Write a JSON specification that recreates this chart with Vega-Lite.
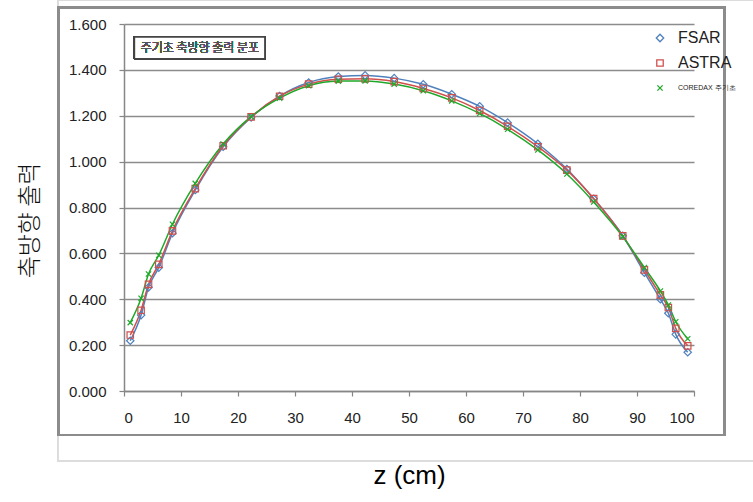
{
  "$schema": "https://vega.github.io/schema/vega-lite/v6.json",
  "width": 570,
  "height": 367,
  "autosize": "none",
  "padding": {"left": 124, "top": 24, "right": 59, "bottom": 111},
  "background": "white",
  "config": {
    "view": {"stroke": null},
    "font": "Liberation Sans"
  },
  "data": {
    "values": [
      {"z": 1.1, "series": "FSAR", "value": 0.219},
      {"z": 3.0, "series": "FSAR", "value": 0.331},
      {"z": 4.3, "series": "FSAR", "value": 0.452},
      {"z": 6.1, "series": "FSAR", "value": 0.538},
      {"z": 8.5, "series": "FSAR", "value": 0.688},
      {"z": 12.5, "series": "FSAR", "value": 0.876},
      {"z": 17.4, "series": "FSAR", "value": 1.065},
      {"z": 22.3, "series": "FSAR", "value": 1.193},
      {"z": 27.3, "series": "FSAR", "value": 1.286},
      {"z": 32.4, "series": "FSAR", "value": 1.345},
      {"z": 37.6, "series": "FSAR", "value": 1.371},
      {"z": 42.3, "series": "FSAR", "value": 1.376},
      {"z": 47.4, "series": "FSAR", "value": 1.364},
      {"z": 52.5, "series": "FSAR", "value": 1.337},
      {"z": 57.5, "series": "FSAR", "value": 1.294},
      {"z": 62.4, "series": "FSAR", "value": 1.241},
      {"z": 67.3, "series": "FSAR", "value": 1.170},
      {"z": 72.6, "series": "FSAR", "value": 1.078},
      {"z": 77.7, "series": "FSAR", "value": 0.968},
      {"z": 82.4, "series": "FSAR", "value": 0.838},
      {"z": 87.5, "series": "FSAR", "value": 0.677},
      {"z": 91.3, "series": "FSAR", "value": 0.516},
      {"z": 94.1, "series": "FSAR", "value": 0.400},
      {"z": 95.5, "series": "FSAR", "value": 0.339},
      {"z": 96.8, "series": "FSAR", "value": 0.247},
      {"z": 98.9, "series": "FSAR", "value": 0.169},
      {"z": 1.1, "series": "ASTRA", "value": 0.244},
      {"z": 3.0, "series": "ASTRA", "value": 0.352},
      {"z": 4.3, "series": "ASTRA", "value": 0.465},
      {"z": 6.1, "series": "ASTRA", "value": 0.552},
      {"z": 8.5, "series": "ASTRA", "value": 0.698},
      {"z": 12.5, "series": "ASTRA", "value": 0.882},
      {"z": 17.4, "series": "ASTRA", "value": 1.069},
      {"z": 22.3, "series": "ASTRA", "value": 1.195},
      {"z": 27.3, "series": "ASTRA", "value": 1.285},
      {"z": 32.4, "series": "ASTRA", "value": 1.338},
      {"z": 37.6, "series": "ASTRA", "value": 1.359},
      {"z": 42.3, "series": "ASTRA", "value": 1.361},
      {"z": 47.4, "series": "ASTRA", "value": 1.349},
      {"z": 52.5, "series": "ASTRA", "value": 1.319},
      {"z": 57.5, "series": "ASTRA", "value": 1.278},
      {"z": 62.4, "series": "ASTRA", "value": 1.223},
      {"z": 67.3, "series": "ASTRA", "value": 1.154},
      {"z": 72.6, "series": "ASTRA", "value": 1.065},
      {"z": 77.7, "series": "ASTRA", "value": 0.963},
      {"z": 82.4, "series": "ASTRA", "value": 0.839},
      {"z": 87.5, "series": "ASTRA", "value": 0.676},
      {"z": 91.3, "series": "ASTRA", "value": 0.528},
      {"z": 94.1, "series": "ASTRA", "value": 0.419},
      {"z": 95.5, "series": "ASTRA", "value": 0.364},
      {"z": 96.8, "series": "ASTRA", "value": 0.273},
      {"z": 98.9, "series": "ASTRA", "value": 0.197},
      {"z": 1.1, "series": "COREDAX 주기초", "value": 0.298},
      {"z": 3.0, "series": "COREDAX 주기초", "value": 0.404},
      {"z": 4.3, "series": "COREDAX 주기초", "value": 0.510},
      {"z": 6.1, "series": "COREDAX 주기초", "value": 0.592},
      {"z": 8.5, "series": "COREDAX 주기초", "value": 0.727},
      {"z": 12.5, "series": "COREDAX 주기초", "value": 0.905},
      {"z": 17.4, "series": "COREDAX 주기초", "value": 1.077},
      {"z": 22.3, "series": "COREDAX 주기초", "value": 1.196},
      {"z": 27.3, "series": "COREDAX 주기초", "value": 1.277},
      {"z": 32.4, "series": "COREDAX 주기초", "value": 1.331},
      {"z": 37.6, "series": "COREDAX 주기초", "value": 1.351},
      {"z": 42.3, "series": "COREDAX 주기초", "value": 1.352},
      {"z": 47.4, "series": "COREDAX 주기초", "value": 1.338},
      {"z": 52.5, "series": "COREDAX 주기초", "value": 1.309},
      {"z": 57.5, "series": "COREDAX 주기초", "value": 1.265},
      {"z": 62.4, "series": "COREDAX 주기초", "value": 1.210},
      {"z": 67.3, "series": "COREDAX 주기초", "value": 1.141},
      {"z": 72.6, "series": "COREDAX 주기초", "value": 1.051},
      {"z": 77.7, "series": "COREDAX 주기초", "value": 0.946},
      {"z": 82.4, "series": "COREDAX 주기초", "value": 0.824},
      {"z": 87.5, "series": "COREDAX 주기초", "value": 0.673},
      {"z": 91.3, "series": "COREDAX 주기초", "value": 0.538},
      {"z": 94.1, "series": "COREDAX 주기초", "value": 0.436},
      {"z": 95.5, "series": "COREDAX 주기초", "value": 0.375},
      {"z": 96.8, "series": "COREDAX 주기초", "value": 0.302},
      {"z": 98.9, "series": "COREDAX 주기초", "value": 0.228}
    ]
  },
  "encoding": {
    "x": {
      "field": "z", "type": "quantitative",
      "scale": {"domain": [0, 100], "nice": false, "zero": false},
      "axis": {
        "title": "z (cm)", "values": [0,10,20,30,40,50,60,70,80,90,100],
        "grid": false, "domainColor": "#868686", "domainWidth": 1.5,
        "tickColor": "#868686", "tickSize": 5, "tickWidth": 1.2,
        "labelFontSize": 15, "labelColor": "#222", "labelPadding": 14,
        "titleFontSize": 26, "titleFontWeight": "normal", "titleColor": "#000",
        "titleFont": "Liberation Sans", "titleY": 84, "titleBaseline": "middle", "titleX": 285
      }
    },
    "y": {
      "field": "value", "type": "quantitative",
      "scale": {"domain": [0, 1.6], "nice": false},
      "axis": {
        "title": "축방향 출력", "values": [0,0.2,0.4,0.6,0.8,1.0,1.2,1.4,1.6], "format": ".3f",
        "grid": true, "gridColor": "#8c8c8c", "gridWidth": 1.5,
        "domainColor": "#868686", "domainWidth": 1.5,
        "tickColor": "#868686", "tickSize": 5, "tickWidth": 1.2,
        "labelFontSize": 15, "labelColor": "#222", "labelPadding": 13,
        "titleFontSize": 24, "titleFontWeight": 300, "titleColor": "#111",
        "titleFont": "Noto Sans CJK KR", "titleX": -94, "titleY": 196, "titleBaseline": "middle"
      }
    },
    "color": {
      "field": "series", "type": "nominal",
      "scale": {"domain": ["FSAR", "ASTRA", "COREDAX 주기초"], "range": ["#4F81BD", "#D0504D", "#1FA82A"]},
      "legend": {
        "title": null, "orient": "none", "legendX": 528, "legendY": 6,
        "labelFont": "Liberation Sans",
        "labelFontSize": {"expr": "datum.label == 'COREDAX 주기초' ? 7 : 16"},
        "labelColor": "#222", "rowPadding": 9, "labelOffset": 10,
        "symbolSize": 60, "symbolStrokeWidth": 1.3, "padding": 0
      }
    }
  },
  "layer": [
    {
      "mark": {"type": "rect", "fill": null, "stroke": "#dcdcdc", "strokeWidth": 1, "clip": false},
      "encoding": {
        "x": {"datum": -11.6}, "x2": {"datum": 110.5},
        "y": {"datum": 1.704}, "y2": {"datum": -0.305},
        "color": {"value": "#dcdcdc"}
      }
    },
    {
      "mark": {"type": "rect", "fill": null, "stroke": "#8c8c8c", "strokeWidth": 2, "clip": false},
      "encoding": {
        "x": {"datum": -11.5}, "x2": {"datum": 105.3},
        "y": {"datum": 1.673}, "y2": {"datum": -0.192},
        "color": {"value": "#8c8c8c"}
      }
    },
    {
      "mark": {"type": "rect", "fill": "white", "stroke": "#444", "strokeWidth": 1.3},
      "encoding": {
        "x": {"datum": 1.85}, "x2": {"datum": 24.7},
        "y": {"datum": 1.543}, "y2": {"datum": 1.449},
        "color": {"value": "white"}
      }
    },
    {
      "mark": {"type": "text", "text": "주기초 축방향 출력 분포", "font": "Noto Sans CJK KR", "fontSize": 12, "fontWeight": 300, "align": "center", "baseline": "middle"},
      "encoding": {
        "x": {"datum": 13.3}, "y": {"datum": 1.496},
        "color": {"value": "#555"}
      }
    },
    {
      "mark": {"type": "line", "interpolate": "monotone", "strokeWidth": 1.5},
      "encoding": {
        "detail": {"field": "series"}
      }
    },
    {
      "mark": {"type": "point", "filled": false, "strokeWidth": 1.2, "opacity": 1},
      "encoding": {
        "shape": {
          "field": "series", "type": "nominal",
          "scale": {"domain": ["FSAR", "ASTRA", "COREDAX 주기초"], "range": ["diamond", "square", "M-1,-1L1,1M-1,1L1,-1"]},
          "legend": {"title": null}
        },
        "size": {
          "field": "series", "type": "nominal",
          "scale": {"domain": ["FSAR", "ASTRA", "COREDAX 주기초"], "range": [55, 28, 40]},
          "legend": null
        }
      }
    }
  ]
}
